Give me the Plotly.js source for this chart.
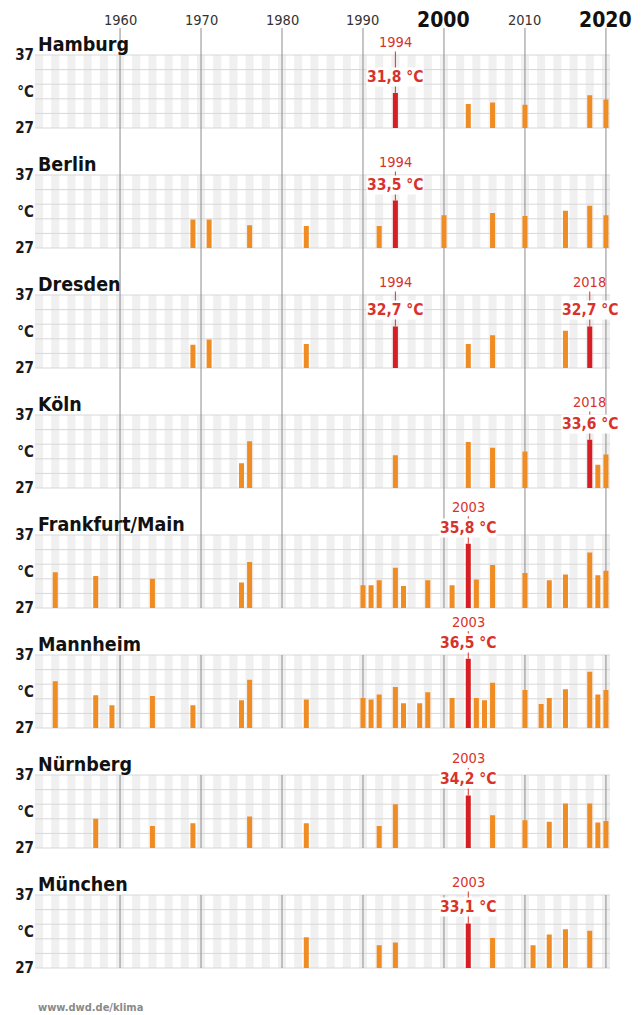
<!DOCTYPE html>
<html><head><meta charset="utf-8">
<script src="https://cdn.plot.ly/plotly-3.0.1.min.js"></script>
<style>html,body{margin:0;padding:0;background:#fff}</style>
</head><body><div id="chart" style="width:643px;height:1015px"></div>
<script>
// ---------------- DATA ----------------
const cities = ['Hamburg','Berlin','Dresden','Köln','Frankfurt/Main','Mannheim','Nürnberg','München'];

const hamburgYears  = [1994, 2003, 2006, 2010, 2018, 2020];
const hamburgValues = [31.8, 30.3, 30.5, 30.2, 31.5, 30.9];
const hamburgRecords = [1994];

const berlinYears  = [1969, 1971, 1976, 1983, 1992, 1994, 2000, 2006, 2010, 2015, 2018, 2020];
const berlinValues = [30.9, 30.9, 30.1, 30.0, 30.0, 33.5, 31.5, 31.8, 31.4, 32.1, 32.8, 31.5];
const berlinRecords = [1994];

const dresdenYears  = [1969, 1971, 1983, 1994, 2003, 2006, 2015, 2018];
const dresdenValues = [30.2, 30.9, 30.3, 32.7, 30.3, 31.5, 32.1, 32.7];
const dresdenRecords = [1994, 2018];

const koelnYears  = [1975, 1976, 1994, 2003, 2006, 2010, 2018, 2019, 2020];
const koelnValues = [30.4, 33.4, 31.5, 33.3, 32.5, 32.0, 33.6, 30.2, 31.6];
const koelnRecords = [2018];

const frankfurtYears  = [1952, 1957, 1964, 1975, 1976, 1990, 1991, 1992, 1994, 1995, 1998, 2001, 2003, 2004, 2006, 2010, 2013, 2015, 2018, 2019, 2020];
const frankfurtValues = [31.9, 31.4, 31.0, 30.5, 33.3, 30.1, 30.1, 30.8, 32.5, 30.0, 30.8, 30.1, 35.8, 30.9, 32.9, 31.8, 30.8, 31.6, 34.6, 31.5, 32.1];
const frankfurtRecords = [2003];

const mannheimYears  = [1952, 1957, 1959, 1964, 1969, 1975, 1976, 1983, 1990, 1991, 1992, 1994, 1995, 1997, 1998, 2001, 2003, 2004, 2005, 2006, 2010, 2012, 2013, 2015, 2018, 2019, 2020];
const mannheimValues = [33.4, 31.5, 30.1, 31.4, 30.1, 30.8, 33.6, 30.9, 31.1, 30.9, 31.6, 32.6, 30.4, 30.4, 31.9, 31.1, 36.5, 31.1, 30.8, 33.2, 32.2, 30.3, 31.1, 32.3, 34.7, 31.6, 32.2];
const mannheimRecords = [2003];

const nuernbergYears  = [1957, 1964, 1969, 1976, 1983, 1992, 1994, 2003, 2006, 2010, 2013, 2015, 2018, 2019, 2020];
const nuernbergValues = [31.0, 30.0, 30.4, 31.3, 30.4, 30.0, 33.0, 34.2, 31.5, 30.8, 30.6, 33.1, 33.1, 30.5, 30.7];
const nuernbergRecords = [2003];

const muenchenYears  = [1983, 1992, 1994, 2003, 2006, 2011, 2013, 2015, 2018];
const muenchenValues = [31.2, 30.1, 30.5, 33.1, 31.1, 30.1, 31.6, 32.3, 32.1];
const muenchenRecords = [2003];

const decadeYears  = [1960, 1970, 1980, 1990, 2000, 2010, 2020];
const decadeLabels = ['1960', '1970', '1980', '1990', '2000', '2010', '2020'];
const yTickValues = [27, 32, 37];
const yTickLabels = ['27', '°C', '37'];
const gridValues = [27, 29, 31, 33, 35, 37];
const firstYear = 1950, lastYear = 2020;
const sourceText = 'www.dwd.de/klima';

// ---------------- STYLE / LAYOUT ----------------
const W = 643, H = 1015;
const FIRST_TOP = 55, STEP = 120, PH = 73;
const YMIN = 27, YMAX = 37;
const X_LEFT = 35, X_RIGHT = 610;
const LINE_TOP = 28;
const emphasized = {2000: true, 2020: true};
const ORANGE = '#ef8c24', RED = '#d81e25', LABEL_RED = '#d8322b';
const FONT = 'DejaVu Sans Condensed, DejaVu Sans, sans-serif';
const BAR_W = 0.62;

const panels = [
  [hamburgYears, hamburgValues, hamburgRecords],
  [berlinYears, berlinValues, berlinRecords],
  [dresdenYears, dresdenValues, dresdenRecords],
  [koelnYears, koelnValues, koelnRecords],
  [frankfurtYears, frankfurtValues, frankfurtRecords],
  [mannheimYears, mannheimValues, mannheimRecords],
  [nuernbergYears, nuernbergValues, nuernbergRecords],
  [muenchenYears, muenchenValues, muenchenRecords]
];

const py = p => 1 - p / H;
const traces = [], shapes = [], annotations = [];
const layout = {
  width: W, height: H,
  margin: {l: 0, r: 0, t: 0, b: 0},
  paper_bgcolor: '#ffffff', plot_bgcolor: 'rgba(0,0,0,0)',
  showlegend: false,
  font: {family: FONT, color: '#222'},
  xaxis: {domain: [X_LEFT / W, X_RIGHT / W], range: [firstYear - 0.5, lastYear + 0.5],
          showticklabels: false, showgrid: false, zeroline: false, showline: false, ticks: '', fixedrange: true}
};

panels.forEach((p, i) => {
  const [yrs, vals, recs] = p;
  const n = i + 1;
  const yid = n === 1 ? 'y' : 'y' + n;
  const yKey = n === 1 ? 'yaxis' : 'yaxis' + n;
  const top = FIRST_TOP + i * STEP;
  layout[yKey] = {
    domain: [py(top + PH), py(top)], range: [YMIN, YMAX], anchor: 'x',
    tickvals: yTickValues, ticktext: yTickLabels.map(t => '<b>' + t + '</b>'),
    tickfont: {size: 15, color: '#1a1a1a', family: FONT},
    showgrid: false, zeroline: false, showline: false, ticks: '', fixedrange: true
  };
  traces.push({
    type: 'bar', x: yrs, y: vals, xaxis: 'x', yaxis: yid, width: BAR_W,
    marker: {color: yrs.map(y => recs.includes(y) ? RED : ORANGE), line: {width: 0}},
    hoverinfo: 'x+y'
  });
  for (let yr = firstYear; yr <= lastYear; yr++) {
    if (yr % 2 === 0) {
      shapes.push({type: 'rect', layer: 'below', xref: 'x', yref: yid + ' domain',
        x0: yr - 0.5, x1: yr + 0.5, y0: 0, y1: 1, fillcolor: '#f0f0f0', line: {width: 0}});
    }
  }
  gridValues.forEach(v => {
    const f = (v - YMIN) / (YMAX - YMIN);
    shapes.push({type: 'line', layer: 'below', xref: 'x', yref: yid + ' domain',
      x0: firstYear - 0.5, x1: lastYear + 0.5, y0: f, y1: f, line: {color: '#d7d7d7', width: 1}});
  });
  decadeYears.forEach(d => {
    shapes.push({type: 'line', layer: 'below', xref: 'x', yref: yid + ' domain',
      x0: d, x1: d, y0: 0, y1: 1, line: {color: '#8c8c8c', width: 1}});
  });
  if (i <= 4) {
    const gapTop = i === 0 ? LINE_TOP : top - STEP + PH;
    decadeYears.forEach(d => {
      shapes.push({type: 'line', layer: 'below', xref: 'x', yref: 'paper',
        x0: d, x1: d, y0: py(top), y1: py(gapTop), line: {color: '#8c8c8c', width: 1}});
    });
  }
  annotations.push({xref: 'paper', yref: 'paper', x: (X_LEFT + 1) / W, y: py(top), xanchor: 'left', yanchor: 'bottom',
    yshift: -3, text: '<b>' + cities[i] + '</b>', showarrow: false, font: {size: 19.5, color: '#111', family: FONT}});
  recs.forEach(r => {
    const v = vals[yrs.indexOf(r)];
    const barTopOffset = (YMAX - v) * PH / (YMAX - YMIN);
    const ay = Math.min(-13 - barTopOffset, -37);
    annotations.push({xref: 'x', yref: yid, x: r, y: v, text: String(r), showarrow: true,
      arrowhead: 0, arrowwidth: 1, arrowcolor: LABEL_RED, ax: 0, ay: ay, standoff: 0,
      font: {size: 14.5, color: LABEL_RED, family: FONT}});
    annotations.push({xref: 'x', yref: yid, x: r, y: v, yshift: 16, yanchor: 'middle', showarrow: false,
      text: '<b>' + v.toFixed(1).replace('.', ',') + ' °C</b>', bgcolor: '#ffffff', borderpad: 0,
      font: {size: 15.5, color: LABEL_RED, family: FONT}});
  });
});

decadeYears.forEach((d, k) => {
  const big = !!emphasized[d];
  annotations.push({xref: 'x', yref: 'paper', x: d, y: py(19.5), yanchor: 'middle', showarrow: false,
    text: big ? '<b>' + decadeLabels[k] + '</b>' : decadeLabels[k],
    font: {size: big ? 21 : 14.5, color: big ? '#111' : '#333', family: FONT}});
});

annotations.push({xref: 'paper', yref: 'paper', x: 36 / W, y: py(1007), xanchor: 'left', yanchor: 'middle',
  showarrow: false, text: '<b>' + sourceText + '</b>', font: {size: 11, color: '#8a8a8a', family: FONT}});

layout.shapes = shapes;
layout.annotations = annotations;
Plotly.newPlot('chart', traces, layout, {staticPlot: true, displayModeBar: false});
</script></body></html>
